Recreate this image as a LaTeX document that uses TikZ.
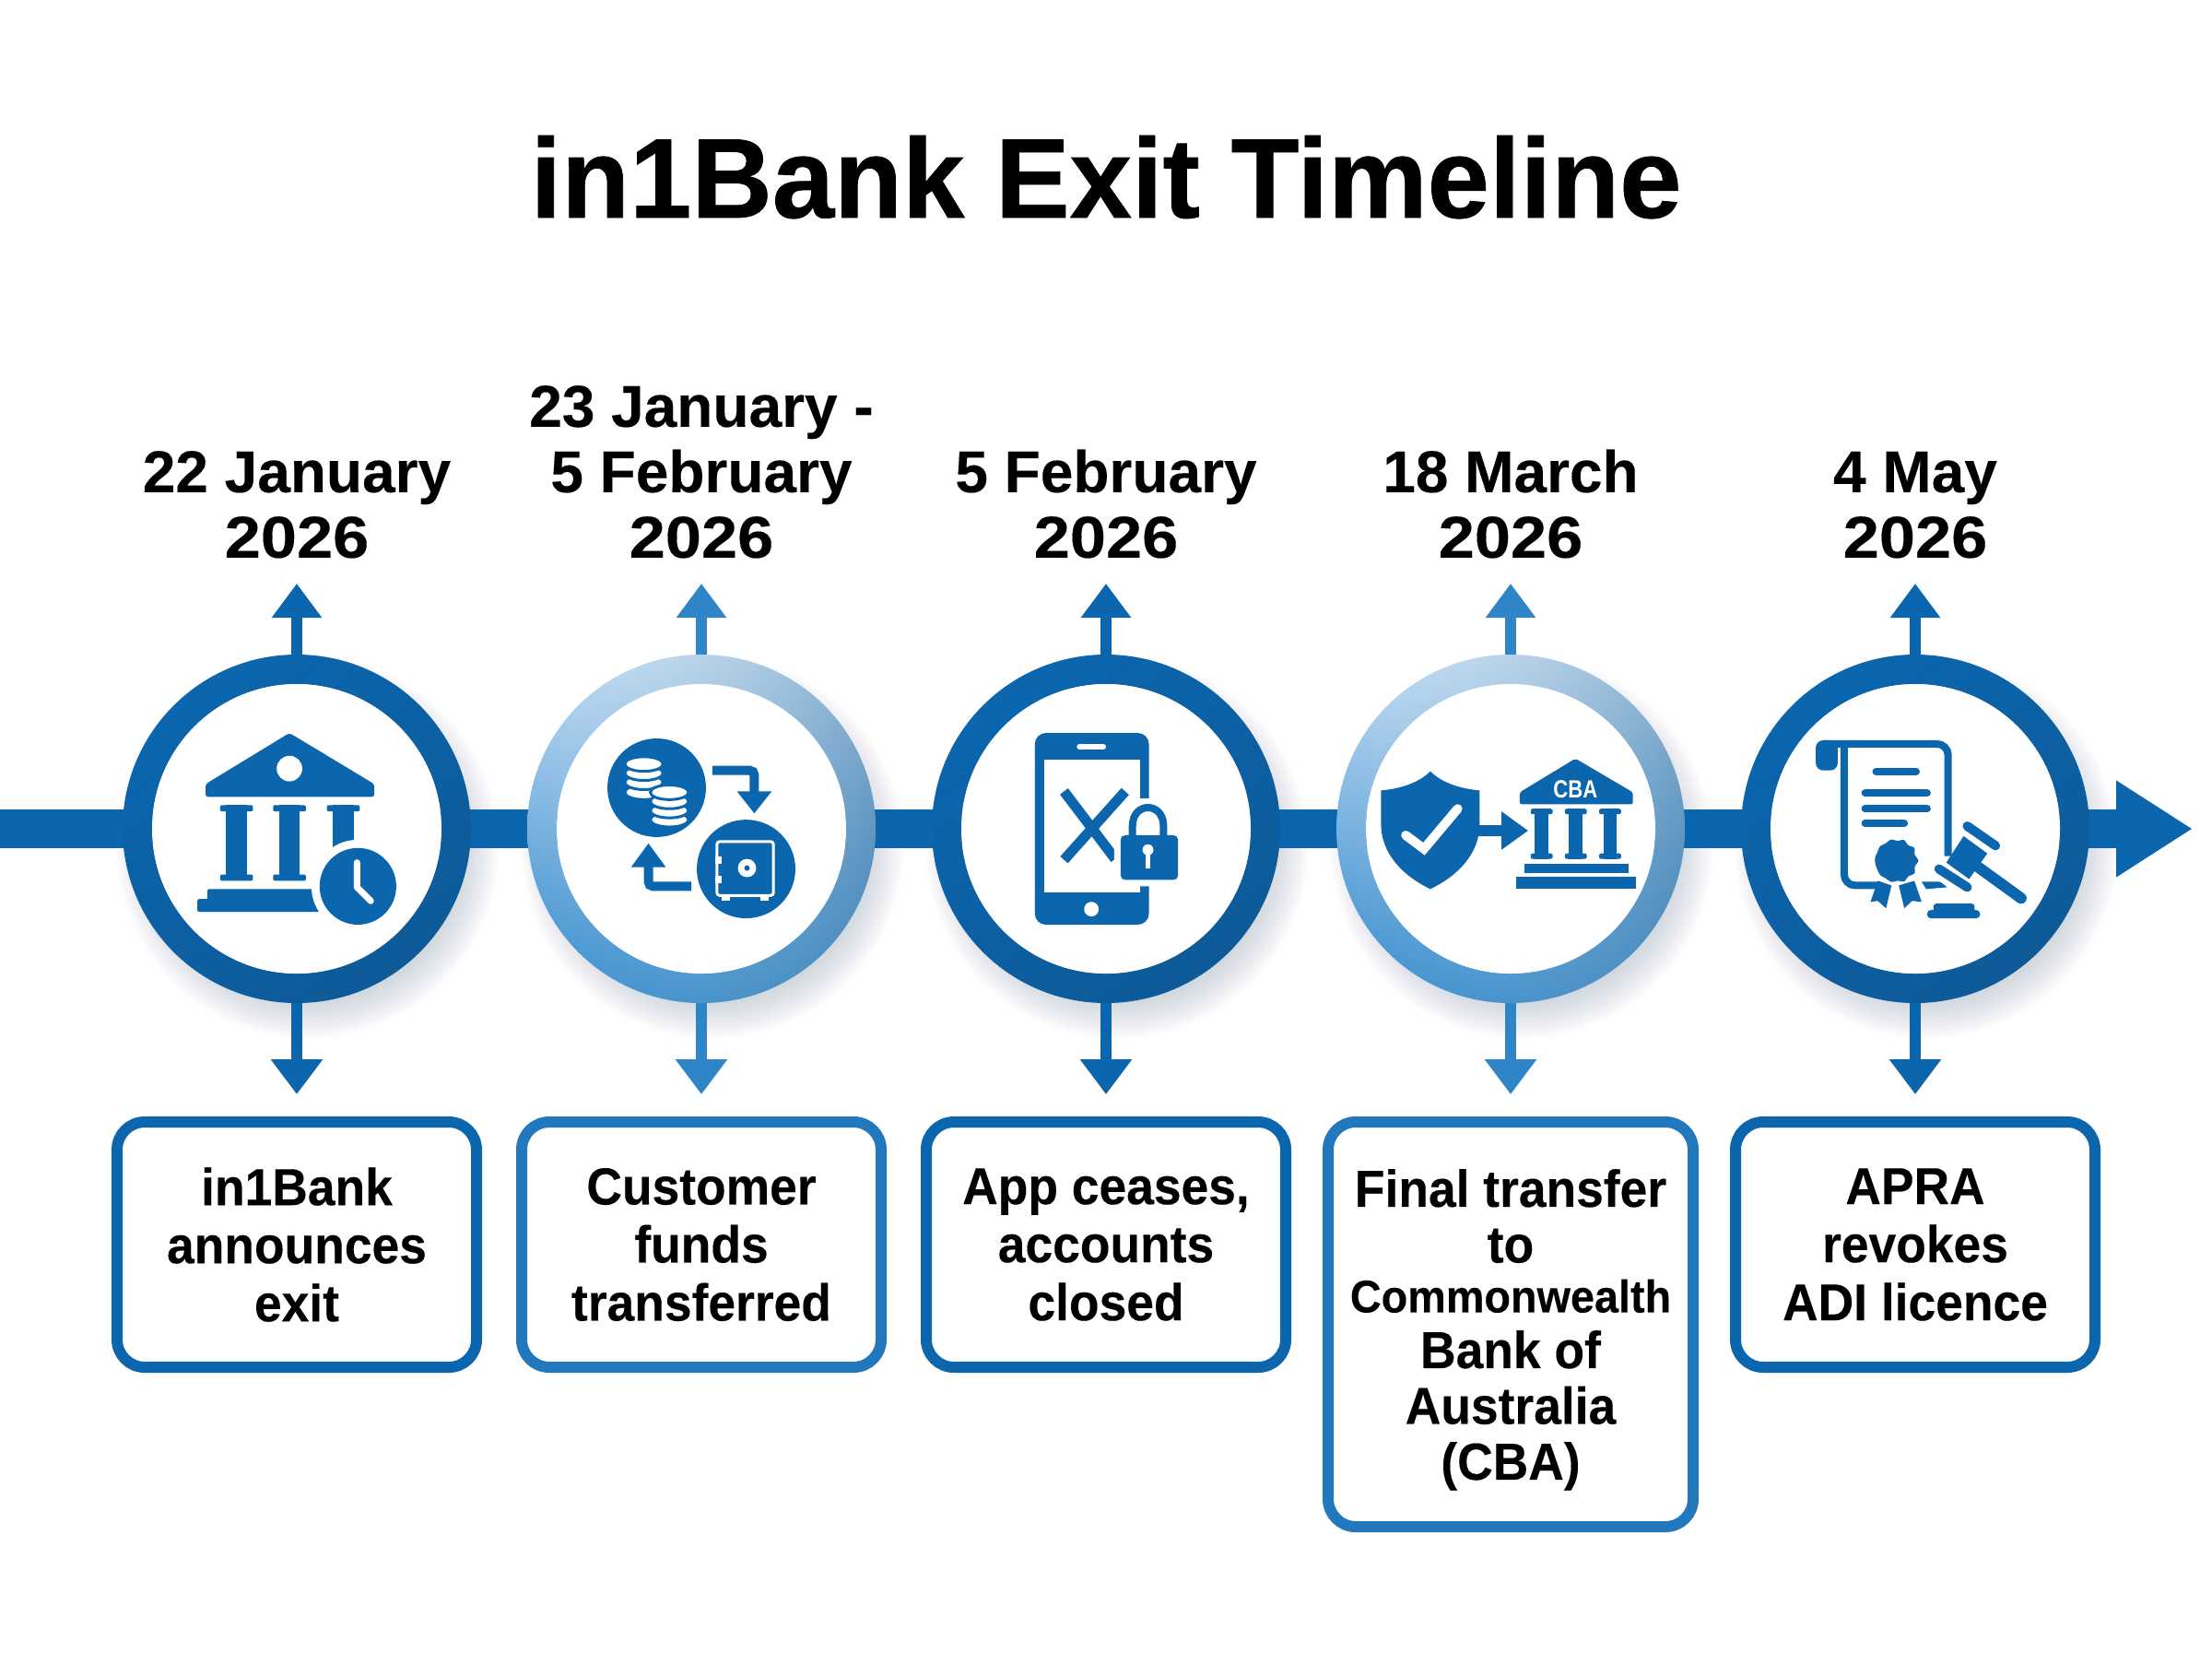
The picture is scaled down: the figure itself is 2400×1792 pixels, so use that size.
\documentclass[tikz,border=0pt]{standalone}
\usepackage{fontspec}
\usetikzlibrary{arrows.meta,fadings}
\setmainfont{Liberation Sans}
\newfontfamily\titlefont[FakeStretch=0.984,FakeBold=0.6]{Liberation Sans}
\newfontfamily\datefont[FakeBold=0.2]{Liberation Sans}
\newfontfamily\yearfont[FakeStretch=1.1,FakeBold=0.2]{Liberation Sans}
\newfontfamily\narrowfont[FakeStretch=0.945,FakeBold=0.2]{Liberation Sans}
\newfontfamily\cbafont[FakeStretch=0.82]{Liberation Sans}
\definecolor{bluedark}{HTML}{0B66AE}
\definecolor{bluedeep}{HTML}{0E5A98}
\definecolor{bluemid}{HTML}{2E86C8}
\definecolor{boxmid}{HTML}{2178BC}
\definecolor{ringtop}{HTML}{BFDAF2}
\definecolor{ringmid}{HTML}{79B0DC}
\definecolor{ringlow}{HTML}{2F88CC}
\definecolor{ringgrey}{HTML}{47799F}
\definecolor{shad}{HTML}{5A6E9C}
\newcommand\yr{{\yearfont\fontsize{64}{71}\selectfont\bfseries 2026}}
\tikzset{
  hub/.style={circle,minimum size=378pt,inner sep=0pt,outer sep=0pt},
  datelabel/.style={anchor=south,inner sep=0pt,outer sep=0pt,align=center,font=\datefont\fontsize{64}{71}\selectfont\bfseries},
  infobox/.style={draw=#1,fill=white,line width=12pt,rounded corners=30pt,minimum width=390pt,minimum height=266pt,inner sep=0pt,outer sep=0pt,align=center,font=\narrowfont\fontsize{56.5}{63}\selectfont\bfseries},
  uparrow/.style={draw=#1,line width=11.5pt,-{Triangle[length=37pt,width=52pt,fill=#1]},shorten >=27.5pt},
  downarrow/.style={draw=#1,line width=11.5pt,-{Triangle[length=38pt,width=54pt,fill=#1]},shorten >=30pt},
  spine/.style={draw=bluedark,line width=42pt},
  ink/.style={fill=bluedark,draw=none},
  paper/.style={fill=white,draw=none},
  pill/.style={draw=bluedark,line width=#1,line cap=round},
  gap/.style={draw=white,line width=#1},
}
\newcommand\pillar[6]{% x, y top, y bottom, shaft width, cap width, cap height
  \fill[ink] ({#1-#4/2},#2) rectangle ({#1+#4/2},#3);
  \fill[ink,rounded corners=2pt] ({#1-#5/2},#2) rectangle ({#1+#5/2},{#2+#6});
  \fill[ink,rounded corners=2pt] ({#1-#5/2},{#3-#6}) rectangle ({#1+#5/2},#3);
}
\newcommand\hubshadowat[1]{\foreach \rr in {165,167.5,...,207.5} {\fill[shad,opacity=.017] ([shift={(12,20)}]#1.center) circle[radius=\rr pt];}}
\newcommand\darkring[1]{%
  \shade[even odd rule,top color=bluedark,middle color=bluedark,bottom color=bluedeep,shading angle=35] (#1.center) circle[radius=189pt] (#1.center) circle[radius=157pt];
  \fill[white] (#1.center) circle[radius=157pt];}
\newcommand\lightring[1]{%
  \shade[even odd rule,top color=ringtop,middle color=ringmid,bottom color=ringlow] (#1.center) circle[radius=189pt] (#1.center) circle[radius=157pt];
  \shade[even odd rule,left color=white,right color=ringgrey,opacity=.45,path fading=west] (#1.center) circle[radius=189pt] (#1.center) circle[radius=157pt];
  \fill[white] (#1.center) circle[radius=157pt];}
\begin{document}
\begin{tikzpicture}[x=1pt,y=-1pt]
\useasboundingbox (0,0) rectangle (2400,1792);
\fill[white] (0,0) rectangle (2400,1792);
\node[anchor=base,inner sep=0pt,font=\titlefont\fontsize{123}{123}\selectfont\bfseries] (title) at (1200,236) {in1Bank Exit Timeline};

\node[hub] (c1) at (322,899) {};
\node[hub] (c2) at (761,899) {};
\node[hub] (c3) at (1200,899) {};
\node[hub] (c4) at (1639,899) {};
\node[hub] (c5) at (2078,899) {};
\coordinate (spinestart) at (0,899);
\coordinate (spineend) at (2379,899);

\node[datelabel] (d1) at (322,605.5) {22 January\\\yr};
\node[datelabel] (d2) at (761,605.5) {23 January -\\5 February\\\yr};
\node[datelabel] (d3) at (1200,605.5) {5 February\\\yr};
\node[datelabel] (d4) at (1639,605.5) {18 March\\\yr};
\node[datelabel] (d5) at (2078,605.5) {4 May\\\yr};

\node[infobox=bluedark] (b1) at (322,1350) {in1Bank\\announces\\exit};
\node[infobox=boxmid] (b2) at (761,1350) {Customer\\funds\\transferred};
\node[infobox=bluedark] (b3) at (1200,1350) {App ceases,\\accounts\\closed};
\node[infobox=boxmid,minimum width=396pt,minimum height=439pt,font=\narrowfont\fontsize{56.5}{60.5}\selectfont\bfseries] (b4) at (1639,1436.5) {Final transfer\\to\\[-6.5pt]{\fontsize{49.5}{60}\selectfont Commonwealth}\\Bank of\\Australia\\\smash{(CBA)}};
\node[infobox=bluedark] (b5) at (2078,1350) {APRA\\revokes\\ADI licence};

\hubshadowat{c1}\hubshadowat{c2}\hubshadowat{c3}\hubshadowat{c4}\hubshadowat{c5}

\draw[spine] (spinestart) -- (c1.center) -- (c2.center) -- (c3.center) -- (c4.center) -- (c5.center);
\draw[spine,-{Triangle[length=83pt,width=99pt,fill=bluedark]}] (c5.center) -- (spineend);

\draw[uparrow=bluedark] (c1.north) -- (d1.south);
\draw[uparrow=bluemid] (c2.north) -- (d2.south);
\draw[uparrow=bluedark] (c3.north) -- (d3.south);
\draw[uparrow=bluemid] (c4.north) -- (d4.south);
\draw[uparrow=bluedark] (c5.north) -- (d5.south);
\draw[downarrow=bluedark] (c1.south) -- (b1.north);
\draw[downarrow=bluemid] (c2.south) -- (b2.north);
\draw[downarrow=bluedark] (c3.south) -- (b3.north);
\draw[downarrow=bluemid] (c4.south) -- (b4.north);
\draw[downarrow=bluedark] (c5.south) -- (b5.north);

\darkring{c1}\lightring{c2}\darkring{c3}\lightring{c4}\darkring{c5}

% --- bank with clock
\begin{scope}[shift={(c1.center)},scale=.99]
  \fill[ink,rounded corners=3pt] (-8,-105) -- (85,-49) -- (85,-35) -- (-100,-35) -- (-100,-49) -- cycle;
  \fill[paper] (-8,-66) circle[radius=14pt];
  \pillar{-66}{-26}{57}{23}{36}{7}
  \pillar{-8}{-26}{57}{23}{36}{7}
  \pillar{51}{-26}{57}{23}{36}{7}
  \fill[ink,rounded corners=2pt] (-98,66) rectangle (25,80);
  \fill[ink,rounded corners=2pt] (-109,77) rectangle (25,91);
  \fill[paper] (67,63) circle[radius=51pt];
  \fill[ink] (67,63) circle[radius=42pt];
  \draw[gap=7pt,line cap=round,line join=round] (66,37) -- (66,64) -- (81,79);
\end{scope}

% --- coins and safe
\begin{scope}[shift={(c2.center)},scale=.99]
  \fill[ink] (-49,-45) circle[radius=54pt];
  \fill[ink] (49,44) circle[radius=54pt];
  \foreach \yy in {-40,-51,-61,-71} {\filldraw[fill=white,draw=bluedark,line width=3pt] (-63,\yy) ellipse[x radius=21pt,y radius=8pt];}
  \foreach \yy in {-10,-20,-30,-40} {\filldraw[fill=white,draw=bluedark,line width=3pt] (-35,\yy) ellipse[x radius=21pt,y radius=8pt];}
  \draw[bluedark,line width=10pt,rounded corners=5pt] (12,-64) -- (58,-64) -- (58,-38);
  \fill[ink] (39,-41) -- (77,-41) -- (58,-17) -- cycle;
  \draw[bluedark,line width=10pt,rounded corners=5pt] (-11,63) -- (-58,63) -- (-58,39);
  \fill[ink] (-77,42) -- (-39,42) -- (-58,16) -- cycle;
  \draw[white,line width=3pt,rounded corners=3pt] (17,14) rectangle (79,73);
  \fill[paper] (22,74) rectangle (31,79);
  \fill[paper] (65,74) rectangle (74,79);
  \fill[paper] (15,30) rectangle (22,38);
  \fill[paper] (15,52) rectangle (22,60);
  \fill[paper] (50,43) circle[radius=10pt];
  \fill[ink] (50,43) circle[radius=3pt];
\end{scope}

% --- phone with lock
\begin{scope}[shift={(c3.center)},scale=.99]
  \fill[ink,rounded corners=12pt] (-78,-105) rectangle (47,105);
  \fill[paper] (-68,-76) rectangle (37,70);
  \draw[white,line width=6pt,line cap=round] (-29,-90) -- (-3,-90);
  \fill[paper] (-16,88) circle[radius=8pt];
  \fill[paper] (36,-33) rectangle (50,63);
  \draw[bluedark,line width=11pt] (-46,-41) -- (10,33);
  \draw[bluedark,line width=11pt] (21,-41) -- (-46,34);
  \draw[white,line width=18pt] (29,10) -- (29,-3) .. controls (29,-30) and (63,-30) .. (63,-3) -- (63,10);
  \fill[paper,rounded corners=6pt] (9,0) rectangle (86,63);
  \draw[bluedark,line width=8pt] (29,10) -- (29,-3) .. controls (29,-30) and (63,-30) .. (63,-3) -- (63,10);
  \fill[ink,rounded corners=5pt] (16,7) rectangle (79,56);
  \fill[paper] (46,23) circle[radius=6pt];
  \fill[paper] (43.5,24) rectangle (48.5,43);
\end{scope}

% --- shield to CBA
\begin{scope}[shift={(c4.center)},scale=.99]
  \fill[ink] (-88,-63) .. controls (-75,-50) and (-55,-44) .. (-34,-42) -- (-34,-5) .. controls (-34,25) and (-55,50) .. (-88,66) .. controls (-121,50) and (-142,25) .. (-142,-5) -- (-142,-42) .. controls (-121,-44) and (-101,-50) .. (-88,-63) -- cycle;
  \draw[white,line width=10pt,line cap=round,line join=miter] (-115,7) -- (-95,22) -- (-58,-22);
  \fill[ink] (-36,-4) rectangle (-10,8);
  \fill[ink] (-10,-19) -- (19,2) -- (-10,23) -- cycle;
  \fill[ink,rounded corners=2pt] (71,-77) -- (134,-40) -- (134,-27) -- (10,-27) -- (10,-40) -- cycle;
  \node[inner sep=0pt,text=white,font=\cbafont\fontsize{27}{27}\selectfont\bfseries] (cbamark) at (71,-43) {CBA};
  \pillar{34}{-22}{33}{15}{24}{6}
  \pillar{71.5}{-22}{33}{15}{24}{6}
  \pillar{109}{-22}{33}{15}{24}{6}
  \fill[ink] (15,38) rectangle (129,48);
  \fill[ink] (6,53) rectangle (137,66);
\end{scope}

% --- scroll with seal and gavel
\begin{scope}[shift={(c5.center)},scale=.99]
  \fill[ink,rounded corners=8pt] (-109,-64) -- (-109,-97) -- (-85,-97) -- (-85,-64) -- cycle;
  \draw[bluedark,line width=8pt,rounded corners=12pt] (-100,-93) -- (36,-93) -- (36,30);
  \draw[bluedark,line width=8pt,rounded corners=12pt] (-78,-93) -- (-78,62) -- (-36,62);
  \fill[ink] (7,58) -- (28,58) -- (35,64) -- (12,66) -- cycle;
  \draw[pill=8pt] (-43,-63) -- (1,-63);
  \draw[pill=8pt] (-55,-39) -- (13,-39);
  \draw[pill=8pt] (-55,-22) -- (13,-22);
  \draw[pill=8pt] (-55,-6) -- (-12,-6);
  \fill[paper] plot[smooth cycle,samples=21,domain=0:342] ({-21+(29+1.5*cos(10*\x))*cos(\x)},{35+(29+1.5*cos(10*\x))*sin(\x)});
  \fill[ink] plot[smooth cycle,samples=21,domain=0:342] ({-21+(23+1.5*cos(10*\x))*cos(\x)},{35+(23+1.5*cos(10*\x))*sin(\x)});
  \fill[ink] (-41,57) -- (-49,80) -- (-41,79) -- (-32,87) -- (-26,62) -- cycle;
  \fill[ink] (-18,62) -- (-12,87) -- (-3.5,79) -- (7,80) -- (-1,57) -- cycle;
  \draw[gap=22pt] (57,-3) -- (88,18.5);
  \draw[gap=22pt] (26,44) -- (57,64);
  \fill[paper] (53,10) -- (79,29) -- (59,55) -- (36,37) -- cycle;
  \draw[pill=10pt] (57,-3) -- (88,18.5);
  \draw[pill=10pt] (26,44) -- (57,64);
  \fill[ink] (53,8) -- (79,27) -- (59,55) -- (34,37) -- cycle;
  \draw[pill=12pt] (69,42) -- (116,76);
  \fill[ink,rounded corners=3pt] (20,82) rectangle (65,92);
  \fill[ink,rounded corners=4pt] (13,89) rectangle (71,98);
\end{scope}
\end{tikzpicture}
\end{document}
